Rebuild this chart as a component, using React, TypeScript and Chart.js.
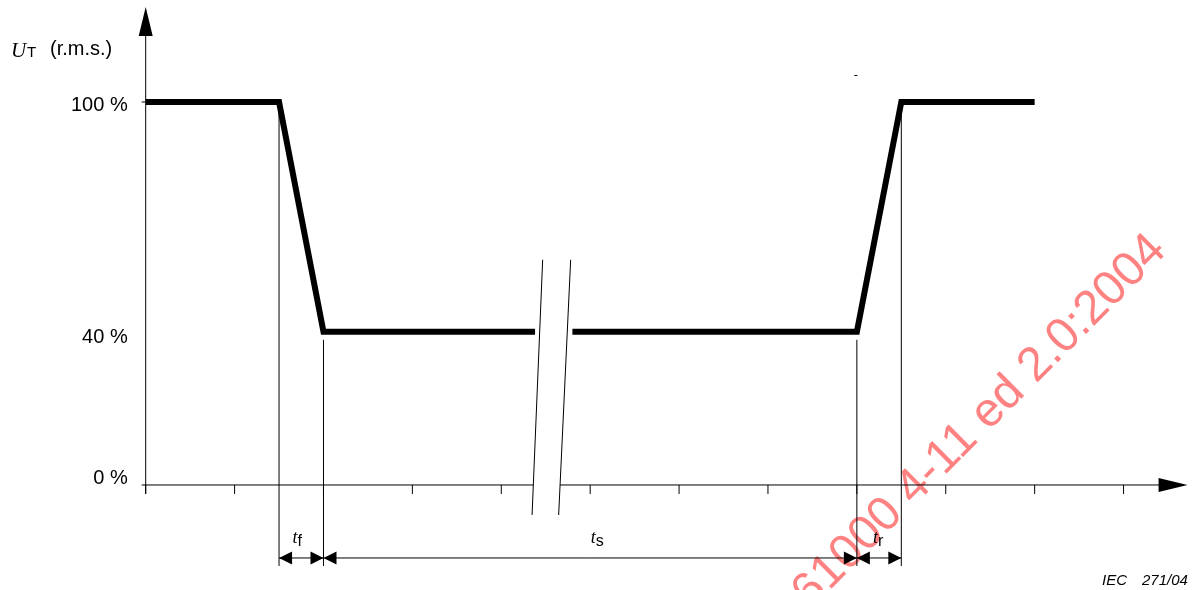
import React, { useEffect, useRef } from "react";
import { Chart, registerables } from "chart.js";

Chart.register(...registerables);

// ---- data ----
const timeTicks = [0, 1, 2, 3, 4, 5, 6, 7, 8, 9, 10, 11];
const levelTicks = [0, 40, 100];
const levelLabels = ["0 %", "40 %", "100 %"];
const levelLabelShift = [-6, 6, 3];
const beforeBreakX = [0, 1.5, 2, 4.38];
const beforeBreakY = [100, 100, 40, 40];
const afterBreakX = [4.8, 8, 8.5, 10];
const afterBreakY = [40, 40, 100, 100];
const breakAt = 4.56;
const guideX = [1.5, 2, 8, 8.5];
const guideFromLevel = [100, 40, 40, 100];
const spanStart = [1.5, 2, 8];
const spanEnd = [2, 8, 8.5];
const spanSub = ["f", "s", "r"];
const spanLabelShift = [-4, 7, -1];
const yAxisTitleMain = "U";
const yAxisTitleSub = "T";
const yAxisTitleRest = "(r.m.s.)";
const figureRef = ["IEC", "271/04"];
const watermarkText = "IEC 61000 4-11 ed 2.0:2004";

// ---- scale ranges (layout) ----
const X_MIN = -1.639;
const X_MAX = 11.77;
const Y_MIN = -27.42;
const Y_MAX = 126.63;

const SANS = '"Liberation Sans", Arial, Helvetica, sans-serif';
const SERIF = '"Liberation Serif", "Times New Roman", serif';

function tri(ctx: CanvasRenderingContext2D, pts: number[][]) {
  ctx.beginPath();
  ctx.moveTo(pts[0][0], pts[0][1]);
  for (let i = 1; i < pts.length; i++) ctx.lineTo(pts[i][0], pts[i][1]);
  ctx.closePath();
  ctx.fill();
}

const diagramPlugin = {
  id: "diagram",
  beforeDraw(chart: any) {
    const { ctx, width, height } = chart;
    ctx.save();
    ctx.fillStyle = "#ffffff";
    ctx.fillRect(0, 0, width, height);
    ctx.translate(1168, 252);
    ctx.rotate(-Math.PI / 4);
    ctx.font = `48px ${SANS}`;
    ctx.fillStyle = "#ff8282";
    ctx.textAlign = "right";
    ctx.textBaseline = "alphabetic";
    ctx.fillText(watermarkText, 0, 0);
    ctx.restore();
  },
  beforeDatasetsDraw(chart: any) {
    const { ctx } = chart;
    const xs = chart.scales.x;
    const ys = chart.scales.y;
    const x0 = xs.getPixelForValue(0);
    const y0 = ys.getPixelForValue(0);
    const bx = xs.getPixelForValue(breakAt);
    const brTop = ys.getPixelForValue(40) - 72;
    const brBot = y0 + 30;
    const lTop = bx - 8.4, lBot = bx - 19;
    const rTop = bx + 19.6, rBot = bx + 7.6;
    const atAxis = (t: number, b: number) => t + (b - t) * ((y0 - brTop) / (brBot - brTop));
    const axEndL = atAxis(lTop, lBot);
    const axStartR = atAxis(rTop, rBot);
    const xArrowBase = xs.getPixelForValue(11) + 35;

    ctx.save();
    ctx.strokeStyle = "#000";
    ctx.fillStyle = "#000";
    ctx.lineWidth = 1;

    // y axis
    ctx.beginPath();
    ctx.moveTo(x0, 34);
    ctx.lineTo(x0, y0 + 9);
    ctx.stroke();
    tri(ctx, [[x0, 7], [x0 - 7, 36], [x0 + 7, 36]]);
    const y100 = ys.getPixelForValue(100);
    ctx.beginPath();
    ctx.moveTo(x0 - 4, y100);
    ctx.lineTo(x0, y100);
    ctx.stroke();

    // x axis in two pieces
    ctx.beginPath();
    ctx.moveTo(x0 - 4, y0);
    ctx.lineTo(axEndL, y0);
    ctx.moveTo(axStartR, y0);
    ctx.lineTo(xArrowBase + 2, y0);
    ctx.stroke();
    tri(ctx, [[xArrowBase, y0 - 7], [xArrowBase, y0 + 7], [xArrowBase + 29, y0]]);

    // x ticks
    ctx.beginPath();
    timeTicks.forEach((t) => {
      const px = xs.getPixelForValue(t);
      ctx.moveTo(px, y0);
      ctx.lineTo(px, y0 + 9);
    });
    ctx.stroke();

    // guide lines
    ctx.beginPath();
    guideX.forEach((g, i) => {
      const px = xs.getPixelForValue(g);
      const lvl = guideFromLevel[i];
      const top = ys.getPixelForValue(lvl) + (lvl === 100 ? 0 : 8);
      ctx.moveTo(px, top);
      ctx.lineTo(px, y0 + 81);
    });
    ctx.stroke();

    // break lines
    ctx.beginPath();
    ctx.moveTo(lTop, brTop);
    ctx.lineTo(lBot, brBot);
    ctx.moveTo(rTop, brTop);
    ctx.lineTo(rBot, brBot);
    ctx.stroke();

    // tiny stray dash
    const gx = xs.getPixelForValue(8);
    ctx.beginPath();
    ctx.moveTo(gx - 2.5, y100 - 26.5);
    ctx.lineTo(gx + 0.5, y100 - 26.5);
    ctx.stroke();
    ctx.restore();
  },
  afterDatasetsDraw(chart: any) {
    const { ctx } = chart;
    const xs = chart.scales.x;
    const ys = chart.scales.y;
    const x0 = xs.getPixelForValue(0);
    const y0 = ys.getPixelForValue(0);
    ctx.save();
    ctx.fillStyle = "#000";
    ctx.strokeStyle = "#000";

    // level labels
    ctx.font = `20px ${SANS}`;
    ctx.textAlign = "right";
    ctx.textBaseline = "middle";
    levelTicks.forEach((v, i) => {
      ctx.fillText(levelLabels[i], x0 - 18, ys.getPixelForValue(v) + levelLabelShift[i]);
    });

    // y-axis title
    ctx.textAlign = "left";
    ctx.textBaseline = "alphabetic";
    ctx.font = `italic 21px ${SERIF}`;
    ctx.fillText(yAxisTitleMain, 11, 56.5);
    ctx.font = `15px ${SANS}`;
    ctx.fillText(yAxisTitleSub, 27, 57);
    ctx.font = `20px ${SANS}`;
    ctx.fillText(yAxisTitleRest, 50, 55);

    // dimension arrows
    const dy = y0 + 73;
    ctx.lineWidth = 1;
    spanStart.forEach((s, i) => {
      const a = xs.getPixelForValue(s);
      const b = xs.getPixelForValue(spanEnd[i]);
      ctx.beginPath();
      ctx.moveTo(a, dy);
      ctx.lineTo(b, dy);
      ctx.stroke();
      tri(ctx, [[a, dy], [a + 13, dy - 6.5], [a + 13, dy + 6.5]]);
      tri(ctx, [[b, dy], [b - 13, dy - 6.5], [b - 13, dy + 6.5]]);
      const mid = (a + b) / 2 + spanLabelShift[i];
      ctx.font = `italic 18px ${SERIF}`;
      const tw = ctx.measureText("t").width;
      ctx.font = `16px ${SANS}`;
      const sw = ctx.measureText(spanSub[i]).width;
      const start = mid - (tw + sw) / 2;
      ctx.font = `italic 18px ${SERIF}`;
      ctx.fillText("t", start, y0 + 58);
      ctx.font = `16px ${SANS}`;
      ctx.fillText(spanSub[i], start + tw, y0 + 61);
    });

    // figure reference
    ctx.font = `italic 15px ${SANS}`;
    ctx.fillText(figureRef[0], 1102, 585);
    ctx.fillText(figureRef[1], 1142, 585);
    ctx.restore();
  },
};

export default function App() {
  const canvasRef = useRef<HTMLCanvasElement | null>(null);

  useEffect(() => {
    if (!canvasRef.current) return;
    const pts: any[] = [];
    beforeBreakX.forEach((x, i) => pts.push({ x, y: beforeBreakY[i] }));
    pts.push({ x: breakAt, y: null });
    afterBreakX.forEach((x, i) => pts.push({ x, y: afterBreakY[i] }));

    const chart = new Chart(canvasRef.current, {
      type: "line",
      data: {
        datasets: [
          {
            data: pts,
            borderColor: "#000",
            borderWidth: 6,
            borderJoinStyle: "miter",
            borderCapStyle: "butt",
            pointRadius: 0,
            pointHoverRadius: 0,
            tension: 0,
            spanGaps: false,
            fill: false,
          } as any,
        ],
      },
      options: {
        animation: false,
        responsive: false,
        maintainAspectRatio: false,
        devicePixelRatio: 1,
        layout: { padding: 0 },
        events: [],
        plugins: {
          legend: { display: false },
          tooltip: { enabled: false },
          title: { display: false },
        },
        scales: {
          x: { type: "linear", min: X_MIN, max: X_MAX, display: false },
          y: { type: "linear", min: Y_MIN, max: Y_MAX, display: false },
        },
      },
      plugins: [diagramPlugin],
    });
    return () => chart.destroy();
  }, []);

  return (
    <div style={{ position: "absolute", left: 0, top: 0, width: 1192, height: 590 }}>
      <canvas ref={canvasRef} width={1192} height={590} style={{ display: "block" }} />
    </div>
  );
}
